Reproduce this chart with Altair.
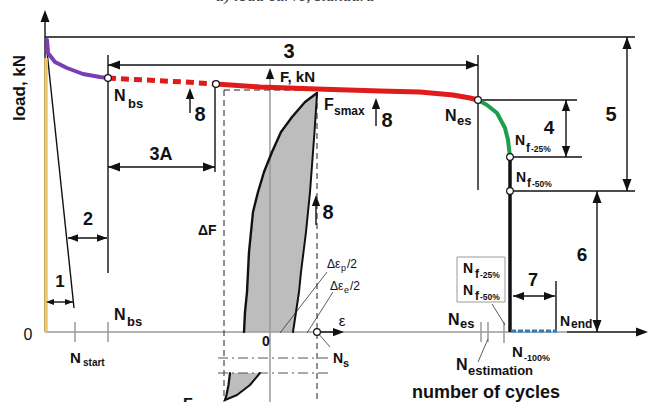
import altair as alt
import pandas as pd

# Schematic units: x = number of cycles from the origin, y = load from the origin.
X_DOMAIN = [-45, 604]
Y_DOMAIN = [-70, 332]

# --- load curve stages -------------------------------------------------------
purple_x = [2, 3, 10, 22, 38, 55, 63]
purple_y = [292, 279, 270, 264, 258, 255, 254]
red_dash_x = [63, 100, 140, 171]
red_dash_y = [254, 252, 250, 248]
red_x = [171, 215, 272, 335, 375, 408, 425, 433]
red_y = [248, 245, 243, 241, 240, 237, 234, 232]
green_x = [433, 442, 452, 460, 463, 465]
green_y = [232, 227, 219, 204, 192, 175]
drop_x = [465, 465]
drop_y = [175, 0]
yellow_x = [1, 1]
yellow_y = [0, 274]
tail_x = [466, 512]
tail_y = [1, 1]

# marked points: N_bs, 3A end, N_es, N_f-25%, N_f-50%, N_s
pt_x = [63, 171, 433, 465, 465, 272]
pt_y = [254, 248, 232, 175, 141, 0]

# --- hysteresis loop (upper part and part below the break) -------------------
loop_y = [239, 230, 215, 200, 180, 160, 140, 120, 100, 80, 60, 40, 20, 0]
loop_left = [272, 260, 247, 236, 227, 219, 213, 208, 206, 204, 203, 202, 200, 199]
loop_right = [272, 271.5, 270.5, 269.5, 268, 266.5, 265, 263, 261, 258.5, 256, 254, 251, 248]
low_y = [-41, -53, -63, -68]
low_left = [185, 183.5, 181.5, 180]
low_right = [215, 205, 192, 180]

# --- construction lines --------------------------------------------------------
black_segs = {
    "top": [(0, 295), (590, 295)],
    "n_bs": [(63, 277), (63, 59)],
    "n_es": [(433, 277), (433, 142)],
    "dim3": [(63, 267), (433, 267)],
    "v3a": [(170, 248), (170, 160)],
    "dim3a": [(63, 165), (170, 165)],
    "dim2": [(23, 94), (62, 94)],
    "dim1": [(1, 30), (28, 30)],
    "ext4a": [(433, 232), (532, 232)],
    "ext4b": [(465, 175), (537, 175)],
    "ext5": [(465, 141), (590, 141)],
    "dim4": [(521, 232), (521, 175)],
    "dim5": [(582, 295), (582, 141)],
    "dim6": [(552, 141), (552, 0)],
    "dim7": [(468, 36), (510, 36)],
    "n_end": [(511, 1), (511, 51)],
    "a8a": [(145, 219), (145, 240)],
    "a8b": [(271, 107), (271, 133)],
    "a8c": [(331, 206), (331, 230)],
    "slope": [(1, 290), (29, 24)],
    "yaxis": [(0, 0), (0, 318)],
    "xend": [(522, 0), (598, 0)],
    "eps": [(272, 0), (294, 0)],
}
gray_segs = {
    "xaxis": [(0, 0), (522, 0)],
    "faxis": [(225, -70), (225, 258)],
    "t_start": [(30, -10), (30, 10)],
    "t_bs": [(63, -10), (63, 10)],
    "t_est1": [(436, -10), (436, 10)],
    "t_est2": [(443, -10), (443, 10)],
    "t_f": [(459, -11), (459, 10)],
}
leader_segs = {
    "d_ep": [(235, -1), (282, 60)],
    "d_ee": [(262, -1), (288, 40)],
    "l_ns": [(272, 0), (285, -15)],
    "l_box": [(447, 28), (460, 7)],
    "l_est": [(443, -7), (433, -30)],
}
box_segs = {"box": [(412, 75), (460, 75), (460, 30), (412, 30), (412, 75)]}
dashed_segs = {
    "dl": [(179, 242), (179, -70)],
    "dr": [(272, 239), (272, -70)],
    "dt": [(179, 242), (272, 242)],
}
dashdot_segs = {
    "b1": [(173, -26), (285, -26)],
    "b2": [(173, -41), (285, -41)],
}

# arrowheads: tip position, direction (deg clockwise from +x), symbol size
head_x = [0, 603, 225, 299, 63, 433, 63, 170, 23, 62, 1, 28,
          521, 521, 582, 582, 552, 552, 468, 510, 145, 271, 331]
head_y = [322, 0, 264, 0, 267, 267, 165, 165, 94, 94, 30, 30,
          232, 175, 295, 141, 141, 0, 36, 36, 244, 137, 234]
head_dir = [270, 0, 270, 0, 180, 0, 180, 0, 180, 0, 180, 0,
            270, 90, 270, 90, 270, 90, 180, 0, 270, 270, 270]
head_size = [144, 144, 121, 121, 144, 144, 144, 144, 100, 100, 64, 64,
             121, 121, 144, 144, 144, 144, 121, 121, 121, 121, 121]

# --- labels ----------------------------------------------------------------------
num_text = ["1", "2", "3", "3A", "4", "5", "6", "7", "8", "8", "8"]
num_x = [15, 43, 244, 116, 504, 566, 537, 488, 155, 283, 342]
num_y = [50, 112, 280, 177, 204, 217, 77, 51, 217, 119, 211]
num_size = [17, 18, 20, 18, 19, 20, 19, 18, 20, 20, 20]

bold_text = ["N", "bs", "N", "bs", "N", "start", "F, kN", "F", "smax", "ΔF",
             "N", "s", "N", "es", "N", "f", "-25%", "N", "f", "-50%",
             "N", "f", "-25%", "N", "f", "-50%", "N", "es", "N", "estimation",
             "N", "-100%", "N", "end", "F", "smin"]
bold_x = [69, 83, 69, 82, 25, 38, 235, 279, 289, 153,
          288, 298, 400, 412, 470, 481, 486, 471, 482, 487,
          418, 430, 435, 418, 430, 435, 403, 415, 411, 423,
          467, 479, 515, 526, 138, 149]
bold_y = [231, 224, 12, 6, -31, -34, 250, 222, 217, 97,
          -31, -35, 211, 207, 187, 180, 180, 150, 145, 145,
          59, 54, 54, 37, 32, 32, 7, 4, -38, -43,
          -25, -29, 6, 4, -78, -82]
bold_size = [16, 13, 16, 13, 15, 10, 15, 16, 12, 14,
             14, 11, 16, 13, 14, 12, 8.5, 14, 12, 8.5,
             14, 12, 8.5, 14, 12, 8.5, 16, 13, 16, 13,
             15, 9, 14, 12, 16, 12]

thin_text = ["Δε", "p", "/2", "Δε", "e", "/2"]
thin_x = [282, 296, 302, 285, 299, 305]
thin_y = [64, 61, 64, 42, 39, 42]
thin_size = [12, 9, 12, 12, 9, 12]

mid_text = ["0", "ε", "0"]
mid_x = [-17, 297, 221]
mid_y = [-3, 11, -10]
mid_size = [16, 15, 14]
mid_weight = ["normal", "normal", "bold"]

FONT = "Liberation Sans"
INK = "#111111"

xs = alt.Scale(domain=X_DOMAIN, nice=False, zero=False)
ys = alt.Scale(domain=Y_DOMAIN, nice=False, zero=False)
X = alt.X("x:Q", scale=xs, axis=None)
Y = alt.Y("y:Q", scale=ys, axis=None)


def polylines(segs):
    rows = []
    for name, pts in segs.items():
        for i, (px, py) in enumerate(pts):
            rows.append({"seg": name, "i": i, "x": px, "y": py})
    return pd.DataFrame(rows)


def path(xv, yv):
    return pd.DataFrame({"x": xv, "y": yv, "i": range(len(xv))})


def lines(df, color, width, dash=None, cap="butt"):
    props = dict(color=color, strokeWidth=width, strokeCap=cap, strokeJoin="round")
    if dash:
        props["strokeDash"] = dash
    enc = dict(x=X, y=Y, order="i:Q")
    if "seg" in df.columns:
        enc["detail"] = "seg:N"
    return alt.Chart(df).mark_line(**props).encode(**enc)


def texts(tx, xv, yv, sv, weight="bold", align="left", baseline="alphabetic"):
    df = pd.DataFrame({"t": tx, "x": xv, "y": yv, "s": sv})
    return alt.Chart(df).mark_text(
        font=FONT, fontWeight=weight, align=align, baseline=baseline, color=INK
    ).encode(x=X, y=Y, text="t:N", size=alt.Size("s:Q", scale=None))


layers = []

# hysteresis loop
layers.append(
    alt.Chart(pd.DataFrame({"y": loop_y, "x": loop_left, "x2": loop_right}))
    .mark_area(orient="horizontal", color="#bdbdbd")
    .encode(y=Y, x=X, x2="x2:Q")
)
layers.append(
    alt.Chart(pd.DataFrame({"y": low_y, "x": low_left, "x2": low_right}))
    .mark_area(orient="horizontal", color="#bdbdbd")
    .encode(y=Y, x=X, x2="x2:Q")
)

# construction lines
layers.append(lines(polylines(gray_segs), "#9a9a9a", 1.5))
layers.append(lines(polylines(dashed_segs), "#222222", 1, dash=[6, 4]))
layers.append(lines(polylines(dashdot_segs), "#555555", 1, dash=[10, 4, 2, 4]))
layers.append(lines(polylines(leader_segs), "#333333", 0.8))
layers.append(lines(polylines(box_segs), "#9a9a9a", 1))
layers.append(lines(polylines(black_segs), INK, 1.4))

# loop outline
layers.append(lines(path(loop_left, loop_y), INK, 2.4, cap="round"))
layers.append(lines(path(loop_right, loop_y), INK, 2.0, cap="round"))
layers.append(lines(path(low_left, low_y), INK, 2.2, cap="round"))
layers.append(lines(path(low_right, low_y), INK, 2.0, cap="round"))

# load curve
layers.append(lines(path(yellow_x, yellow_y), "#eec766", 3.5))
layers.append(lines(path(purple_x, purple_y), "#7a3db3", 4, cap="round"))
layers.append(lines(path(red_dash_x, red_dash_y), "#e01b1b", 5, dash=[8, 5]))
layers.append(lines(path(red_x, red_y), "#e01b1b", 5, cap="round"))
layers.append(lines(path(green_x, green_y), "#1f9e4a", 4, cap="round"))
layers.append(lines(path(drop_x, drop_y), INK, 3.5))
layers.append(lines(path(tail_x, tail_y), "#2c7cc0", 3, dash=[5, 2]))

# arrowheads (tip at the data point, path points along +x)
layers.append(
    alt.Chart(pd.DataFrame({"x": head_x, "y": head_y, "a": head_dir, "s": head_size}))
    .mark_point(shape="M0,0L-2,-0.75L-2,0.75Z", filled=True, color=INK, opacity=1)
    .encode(x=X, y=Y, angle=alt.Angle("a:Q", scale=None), size=alt.Size("s:Q", scale=None))
)

# marked points
layers.append(
    alt.Chart(pd.DataFrame({"x": pt_x, "y": pt_y}))
    .mark_point(shape="circle", filled=True, fill="white", stroke=INK,
                strokeWidth=1.2, size=45, opacity=1)
    .encode(x=X, y=Y)
)

# labels
layers.append(texts(num_text, num_x, num_y, num_size, align="center", baseline="middle"))
layers.append(texts(bold_text, bold_x, bold_y, bold_size))
layers.append(texts(thin_text, thin_x, thin_y, thin_size, weight="normal"))
for t, xv, yv, sv, w in zip(mid_text, mid_x, mid_y, mid_size, mid_weight):
    layers.append(texts([t], [xv], [yv], [sv], weight=w, align="center", baseline="middle"))

# axis titles
layers.append(texts(["number of cycles"], [441], [-66], [18], align="center"))
layers.append(
    alt.Chart(pd.DataFrame({"t": ["load, kN"], "x": [-25], "y": [244]}))
    .mark_text(font=FONT, fontWeight="bold", fontSize=17, angle=270,
               align="center", baseline="middle", color=INK)
    .encode(x=X, y=Y, text="t:N")
)
# panel caption sits at the very top edge of the figure
layers.append(
    alt.Chart(pd.DataFrame({"t": ["a) load curve, standard"], "x": [250], "y": [331]}))
    .mark_text(font="Liberation Serif", fontStyle="italic", fontSize=17,
               align="center", baseline="alphabetic", color="#333333")
    .encode(x=X, y=Y, text="t:N")
)

chart = (
    alt.layer(*layers)
    .properties(width=649, height=402, padding=0,
                autosize=alt.AutoSizeParams(type="none"), background="white")
    .configure_view(stroke=None)
)

chart.save("out.html", embed_options={"renderer": "svg", "actions": False})
